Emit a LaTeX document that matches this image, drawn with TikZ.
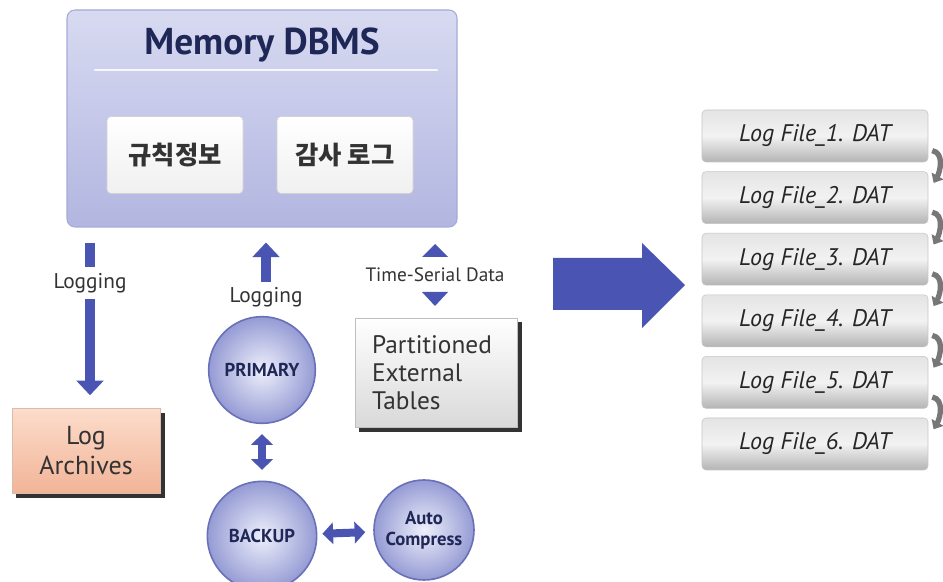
\documentclass[tikz,border=0pt]{standalone}
\usepackage{fontspec}
\setmainfont{PT Sans}
\newfontfamily\kofont{Noto Sans CJK KR}
\usetikzlibrary{arrows.meta,positioning,calc,backgrounds}

\definecolor{arrowblue}{HTML}{4A55B3}
\definecolor{dbmstop}{HTML}{D8DAF1}
\definecolor{dbmsbot}{HTML}{B2B6E0}
\definecolor{dbmsline}{HTML}{A6AAD8}
\definecolor{navy}{HTML}{1F2757}
\definecolor{textgray}{HTML}{333333}
\definecolor{peachtop}{HTML}{FCDCCB}
\definecolor{peachbot}{HTML}{F2B497}
\definecolor{balledge}{HTML}{6870B8}
\definecolor{ballin}{HTML}{EEF0FB}
\definecolor{ballout}{HTML}{959BD4}
\definecolor{filetop}{HTML}{E4E4E4}
\definecolor{filebot}{HTML}{B4B4B4}
\definecolor{arcgray}{HTML}{777777}

\tikzset{
  dbmsbox/.style={draw=dbmsline, line width=0.8pt, rounded corners=6pt,
    top color=dbmstop, bottom color=dbmsbot,
    minimum width=292.5pt, minimum height=162.75pt},
  rulebox/.style={draw=gray!35, rounded corners=3pt, top color=white, bottom color=gray!12,
    minimum width=102pt, minimum height=57.75pt, text=textgray,
    font=\kofont\bfseries\fontsize{19}{22}\selectfont},
  archbox/.style={top color=peachtop, bottom color=peachbot, draw=peachbot!80!black!60,
    minimum width=111pt, minimum height=63.75pt, align=center, text=textgray,
    font=\fontsize{19.5}{22.5}\selectfont},
  tablebox/.style={top color=white, bottom color=gray!30, draw=gray!50,
    minimum height=81.75pt, text width=96pt, inner xsep=12.75pt, align=left,
    text=textgray, font=\fontsize{19}{21}\selectfont},
  filebox/.style={rounded corners=3pt, top color=filetop, bottom color=filebot,
    middle color=gray!10, draw=gray!45,
    minimum width=169.5pt, minimum height=39pt, text=black!85,
    font=\itshape\fontsize{18}{20}\selectfont},
  ball/.style={circle, draw=balledge, line width=1.2pt, inner color=ballin,
    outer color=ballout, text=navy, align=center, inner sep=1pt,
    font=\bfseries\fontsize{14}{16}\selectfont},
  small/.style={text=textgray, font=\fontsize{16}{18}\selectfont},
  blueline/.style={draw=arrowblue, line width=7.5pt},
  bluearrow/.style={blueline, -{Triangle[width=20pt,length=11pt]}},
  dblarrow/.style={draw=arrowblue, line width=6pt,
    {Triangle[width=16pt,length=8pt]}-{Triangle[width=16pt,length=8pt]}},
  turnarrow/.style={draw=arcgray, line width=4pt, -{Triangle[width=10pt,length=6pt]}},
  boxshadow/.style={fill=black!80}
}

\begin{document}
\begin{tikzpicture}[x=0.75pt, y=0.75pt]
  \useasboundingbox (0,0) rectangle (943,582);

  % memory dbms
  \node[dbmsbox] (dbms) at (262,463.5) {};
  \node[text=navy, font=\bfseries\fontsize{28}{32}\selectfont] (title) at (262,537) {Memory DBMS};
  \draw[white, line width=2pt, line cap=round, opacity=0.85] (95,512) -- (437,512);
  \node[rulebox] (rules) at (175,427) {규칙정보};
  \node[rulebox] (audit) at (345,427) {감사 로그};

  % logging to archives
  \node[small] (logA) at (90,299) {Logging};
  \node[archbox] (archive) at (86,131) {Log\\Archives};
  \draw[blueline, shorten <=11.25pt, shorten >=1pt] (dbms.south -| logA) -- (logA.north);
  \draw[bluearrow, shorten <=1pt, shorten >=9.75pt] (logA.south) -- (logA.south |- archive.north);

  % replication
  \node[small] (logB) at (266,285) {Logging};
  \node[ball, minimum size=80pt] (primary) at (262,212) {PRIMARY};
  \node[ball, minimum size=82pt] (backup) at (262,46) {BACKUP};
  \node[ball, minimum size=75pt] (auto) at (424,52) {Auto\\Compress};
  \draw[bluearrow, shorten >=11.25pt] (logB.north) -- (logB.north |- dbms.south);
  \draw[dblarrow, shorten <=7.5pt, shorten >=8pt] (primary.south) -- (backup.north);
  \draw[dblarrow, shorten <=3.75pt, shorten >=6pt] (backup) -- (auto);

  % time-serial data
  \node[text=textgray, font=\fontsize{14.5}{16}\selectfont] (tsd) at (435,307) {Time-Serial Data};
  \node[tablebox] (tables) at (436,209.5) {Partitioned\\External\\Tables};
  \fill[arrowblue] (422,325) -- (448,325) -- (435,338) -- cycle;
  \fill[arrowblue] (422,290) -- (448,290) -- (435,276) -- cycle;

  % big arrow
  \fill[arrowblue] (553,272) -- (642,272) -- (642,254) -- (685,297)
    -- (642,339) -- (642,324) -- (553,324) -- cycle;

  % log files
  \foreach \i in {1,...,6}
    \node[filebox] (f\i) at (815,{446-61.6*(\i-1)}) {Log File\_\i. DAT};
  \foreach \i [count=\j from 2] in {1,...,5}
    \draw[turnarrow] ([xshift=3pt,yshift=-11pt]f\i.east) to[out=-10,in=60]
      ([xshift=4pt,yshift=11pt]f\j.east);

  % shadows
  \begin{scope}[on background layer]
    \fill[white] (0,0) rectangle (943,582);
    \fill[boxshadow] ([shift={(3.5pt,-3.5pt)}]archive.south west) rectangle ([shift={(3.5pt,-3.5pt)}]archive.north east);
    \fill[boxshadow] ([shift={(3.5pt,-3.5pt)}]tables.south west) rectangle ([shift={(3.5pt,-3.5pt)}]tables.north east);
    \fill[gray!60, rounded corners=3pt] ([shift={(3pt,-1.5pt)}]rules.south west) rectangle ([shift={(3pt,-1.5pt)}]rules.north east);
    \fill[gray!60, rounded corners=3pt] ([shift={(3pt,-1.5pt)}]audit.south west) rectangle ([shift={(3pt,-1.5pt)}]audit.north east);
  \end{scope}
\end{tikzpicture}
\end{document}
